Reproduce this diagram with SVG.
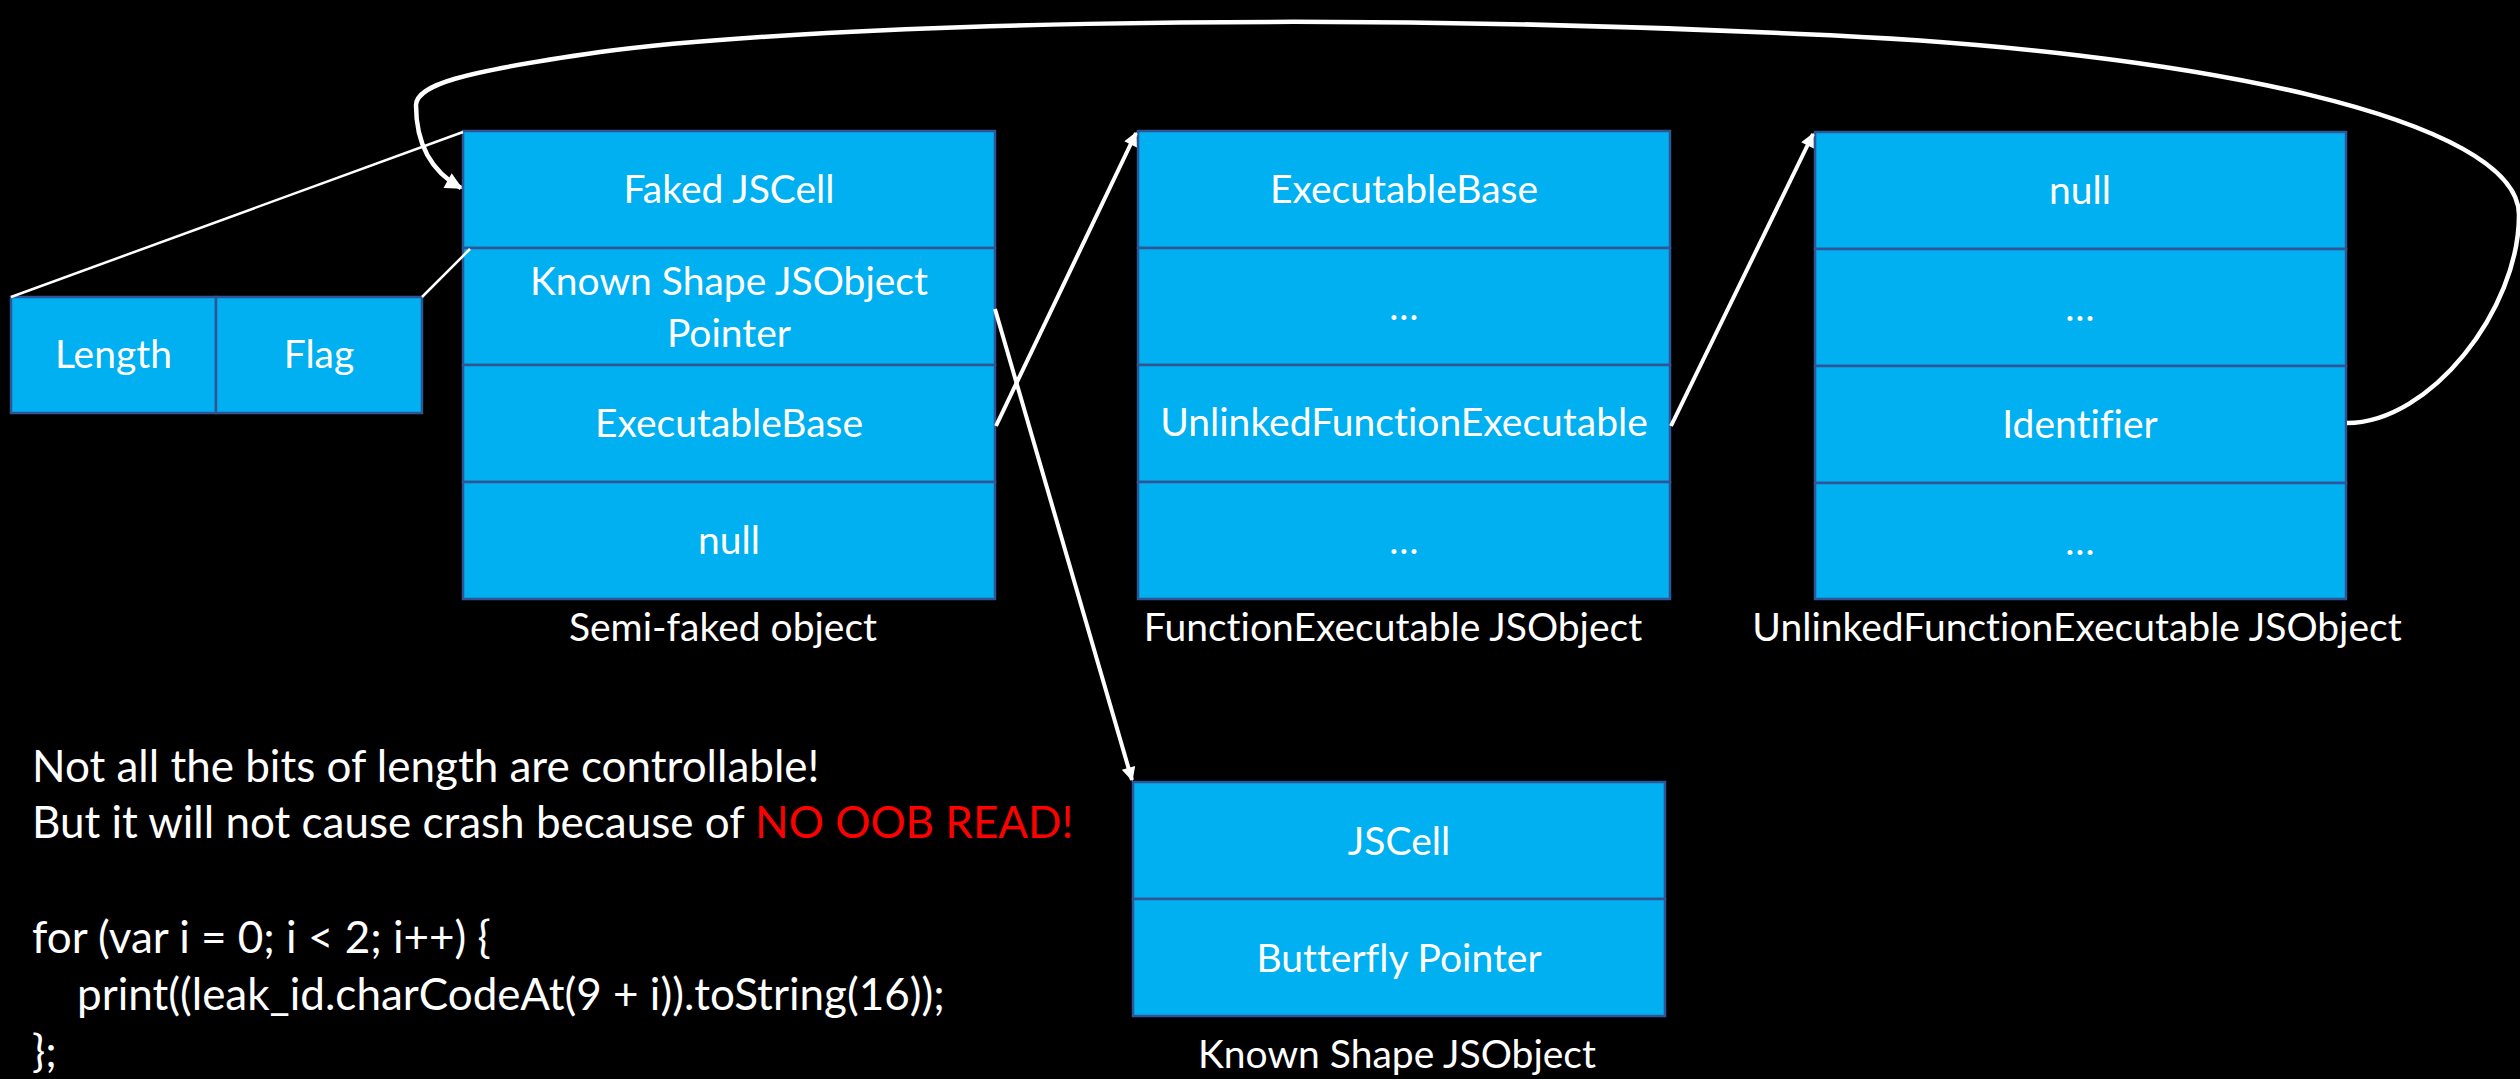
<svg xmlns="http://www.w3.org/2000/svg" width="2520" height="1079" viewBox="0 0 2520 1079">
  <defs>
    <style>
      .cell { fill: #00B0F0; stroke: #2F5597; stroke-width: 2.5; }
      .lbl { font-family: Lato, "Open Sans", "Liberation Sans", sans-serif; font-size: 39px; fill: #FFFFFF; text-anchor: middle; font-variant-ligatures: none; }
      .note { font-family: Lato, "Open Sans", "Liberation Sans", sans-serif; font-size: 44px; fill: #FFFFFF; font-variant-ligatures: none; }
      .warn { fill: #FF0000; }
      .thin { fill: none; stroke: #FFFFFF; stroke-width: 2.5; }
      .ptr { fill: none; stroke: #FFFFFF; stroke-width: 4; }
      .loop { fill: none; stroke: #FFFFFF; stroke-width: 4.5; }
    </style>
    <marker id="head" viewBox="0 0 10 10" refX="9" refY="5" markerWidth="17" markerHeight="14" markerUnits="userSpaceOnUse" orient="auto">
      <path d="M0,0 L10,5 L0,10 z" fill="#FFFFFF"/>
    </marker>
    <marker id="head-lg" viewBox="0 0 10 10" refX="9" refY="5" markerWidth="20" markerHeight="17" markerUnits="userSpaceOnUse" orient="auto">
      <path d="M0,0 L10,5 L0,10 z" fill="#FFFFFF"/>
    </marker>
  </defs>

  <rect x="0" y="0" width="2520" height="1079" fill="#000000"/>

  <!-- length / flag header word -->
  <g id="length-flag">
    <rect class="cell" x="11" y="297" width="205" height="116"/>
    <rect class="cell" x="216" y="297" width="206" height="116"/>
    <text class="lbl" x="113.5" y="368">Length</text>
    <text class="lbl" x="319" y="368">Flag</text>
  </g>

  <!-- semi-faked object -->
  <g id="semi-faked-object">
    <rect class="cell" x="463" y="131" width="532" height="117"/>
    <rect class="cell" x="463" y="248" width="532" height="117"/>
    <rect class="cell" x="463" y="365" width="532" height="117"/>
    <rect class="cell" x="463" y="482" width="532" height="117"/>
    <text class="lbl" x="729" y="203">Faked JSCell</text>
    <text class="lbl" x="729" y="295">Known Shape JSObject</text>
    <text class="lbl" x="729" y="347">Pointer</text>
    <text class="lbl" x="729" y="437">ExecutableBase</text>
    <text class="lbl" x="729" y="554">null</text>
    <text class="lbl" x="723" y="641">Semi-faked object</text>
  </g>

  <!-- FunctionExecutable -->
  <g id="function-executable">
    <rect class="cell" x="1138" y="131" width="532" height="117"/>
    <rect class="cell" x="1138" y="248" width="532" height="117"/>
    <rect class="cell" x="1138" y="365" width="532" height="117"/>
    <rect class="cell" x="1138" y="482" width="532" height="117"/>
    <text class="lbl" x="1404" y="203">ExecutableBase</text>
    <text class="lbl" x="1404" y="320">…</text>
    <text class="lbl" x="1404" y="436">UnlinkedFunctionExecutable</text>
    <text class="lbl" x="1404" y="554">…</text>
    <text class="lbl" x="1393" y="641">FunctionExecutable JSObject</text>
  </g>

  <!-- UnlinkedFunctionExecutable -->
  <g id="unlinked-function-executable">
    <rect class="cell" x="1815" y="132" width="531" height="117"/>
    <rect class="cell" x="1815" y="249" width="531" height="117"/>
    <rect class="cell" x="1815" y="366" width="531" height="117"/>
    <rect class="cell" x="1815" y="483" width="531" height="116"/>
    <text class="lbl" x="2080" y="204">null</text>
    <text class="lbl" x="2080" y="321">…</text>
    <text class="lbl" x="2080" y="438">Identifier</text>
    <text class="lbl" x="2080" y="555">…</text>
    <text class="lbl" x="2077" y="641">UnlinkedFunctionExecutable JSObject</text>
  </g>

  <!-- known shape object -->
  <g id="known-shape-jsobject">
    <rect class="cell" x="1133" y="782" width="532" height="117"/>
    <rect class="cell" x="1133" y="899" width="532" height="117"/>
    <text class="lbl" x="1399" y="855">JSCell</text>
    <text class="lbl" x="1399" y="972">Butterfly Pointer</text>
    <text class="lbl" x="1397" y="1068">Known Shape JSObject</text>
  </g>

  <!-- notes -->
  <g id="notes">
    <text class="note" x="32" y="782">Not all the bits of length are controllable!</text>
    <text class="note" x="32" y="838">But it will not cause crash because of <tspan class="warn">NO OOB READ!</tspan></text>
    <text class="note" x="32" y="953">for (var i = 0; i &lt; 2; i++) {</text>
    <text class="note" x="77" y="1010">print((leak_id.charCodeAt(9 + i)).toString(16));</text>
    <text class="note" x="32" y="1067">};</text>
  </g>

  <!-- connectors -->
  <g id="connectors">
    <line class="thin" x1="11" y1="297" x2="463" y2="132"/>
    <line class="thin" x1="422" y1="297" x2="470" y2="249"/>
    <path class="ptr" d="M995,309 L1132,780" marker-end="url(#head)"/>
    <path class="ptr" d="M996,426 L1136,133" marker-end="url(#head)"/>
    <path class="ptr" d="M1671,426 L1813,134" marker-end="url(#head)"/>
    <path class="loop" d="M2347,423 C2430,423 2519,310 2519,215 C2519,120 2200,50 1800,34 C1300,10 800,25 600,52 C460,72 417,85 416,105 C416,145 432,172 461,188" marker-end="url(#head-lg)"/>
  </g>
</svg>
